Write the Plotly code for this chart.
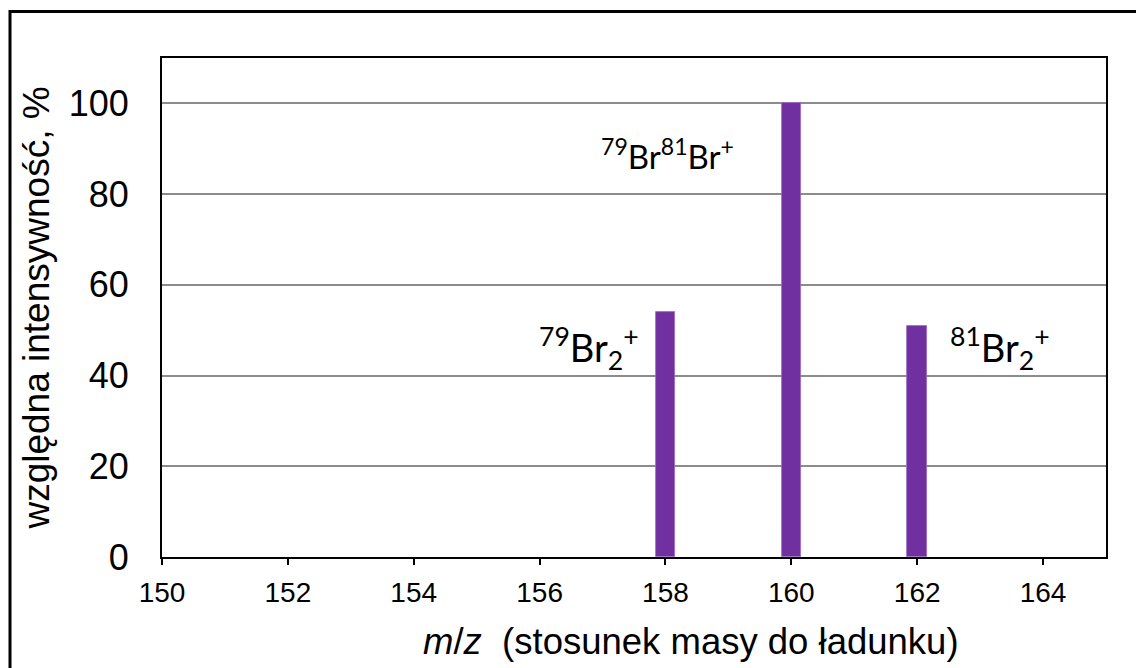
import plotly.graph_objects as go

# Data
mz = [158, 160, 162]
intensity = [54, 100, 51]
ion_labels = ["<sup>79</sup>Br<sub>2</sub><sup>+</sup>",
              "<sup>79</sup>Br<sup>81</sup>Br<sup>+</sup>",
              "<sup>81</sup>Br<sub>2</sub><sup>+</sup>"]
label_x = [156.78, 158.03, 163.32]
label_y = [46.1, 88.8, 46.1]
label_size = [38, 33, 38]
x_ticks = [150, 152, 154, 156, 158, 160, 162, 164]
y_ticks = [0, 20, 40, 60, 80, 100]

W, H = 1136, 668
ML, MR, MT, MB = 162, 30, 58, 111
PW, PH = W - ML - MR, H - MT - MB

fig = go.Figure()
fig.add_trace(go.Bar(
    x=mz, y=intensity, width=0.31,
    marker=dict(color="#7030A0", line=dict(color="#9a6cc0", width=0.8)),
    showlegend=False, hoverinfo="x+y",
))

for tx, ty, t, s in zip(label_x, label_y, ion_labels, label_size):
    fig.add_annotation(x=tx, y=ty, xref="x", yref="y", text=t, showarrow=False,
                       xanchor="center", yanchor="middle",
                       font=dict(family="Lato, Carlito, sans-serif", size=s, color="black"))

# x axis title (offset to the right as in reference)
fig.add_annotation(x=(691 - ML) / PW, y=(H - MB - 641) / PH, xref="paper", yref="paper",
                   xanchor="center", yanchor="middle",
                   text="<i>m</i>/<i>z</i>\u00a0\u00a0(stosunek masy do ładunku)",
                   showarrow=False,
                   font=dict(family="Liberation Sans, Arial, sans-serif", size=36.5, color="black"))

# outer frame
fig.add_shape(type="rect", xref="paper", yref="paper",
              x0=(10 - ML) / PW, x1=(1150 - ML) / PW,
              y0=(H - MB - 690) / PH, y1=(H - MB - 11.5) / PH,
              line=dict(color="black", width=3), fillcolor="rgba(0,0,0,0)", layer="below")

fig.update_layout(
    width=W, height=H,
    margin=dict(l=ML, r=MR, t=MT, b=MB, pad=0),
    paper_bgcolor="white", plot_bgcolor="white",
    font=dict(family="Liberation Sans, Arial, sans-serif", color="black"),
    bargap=0,
    xaxis=dict(range=[150, 165], tickvals=x_ticks, ticks="outside", ticklen=6,
               tickwidth=1.5, tickcolor="black", ticklabelstandoff=3,
               tickfont=dict(size=28), showgrid=False, zeroline=False,
               showline=True, linecolor="black", linewidth=2, mirror=True),
    yaxis=dict(range=[0, 110], tickvals=y_ticks, ticks="", showgrid=True,
               gridcolor="#8c8c8c", gridwidth=1.5, zeroline=False,
               tickfont=dict(size=36), ticklabelstandoff=24,
               showline=True, linecolor="black", linewidth=2, mirror=True,
               title=dict(text="względna intensywność, %", font=dict(size=37), standoff=8)),
)

fig.write_html("out.html", config={"displayModeBar": False},
               post_script="document.body.style.margin='0';")
